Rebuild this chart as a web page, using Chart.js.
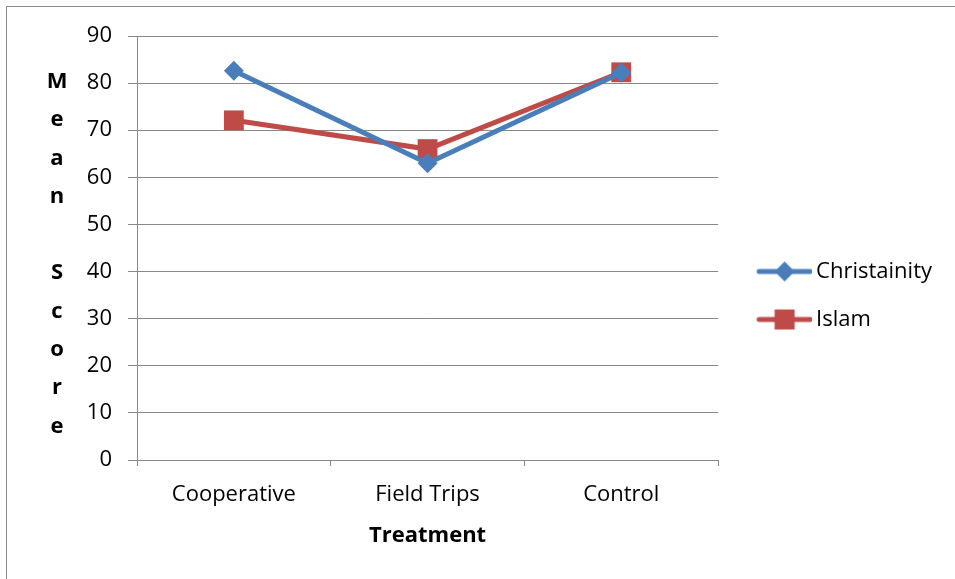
<!DOCTYPE html>
<html>
<head>
<meta charset="utf-8">
<script src="https://cdn.jsdelivr.net/npm/chart.js@4.4.1/dist/chart.umd.min.js"></script>
<style>
html, body { margin: 0; padding: 0; background: #fff; }
#wrap { position: relative; width: 955px; height: 579px; overflow: hidden; }
#frame { position: absolute; left: 6px; top: 6px; width: 1200px; height: 1200px;
         border-left: 1px solid #8c8c8c; border-top: 1px solid #8c8c8c; }
#myChart { position: absolute; left: 0; top: 0; }
</style>
</head>
<body>
<div id="wrap">
  <div id="frame"></div>
  <canvas id="myChart" width="955" height="579"></canvas>
</div>
<script>
'use strict'

// data
const categories = ['Cooperative', 'Field Trips', 'Control'];
const christianity = [82.6, 63.0, 82.2];
const islam = [72.1, 66.0, 82.3];
const yMin = 0, yMax = 90, yStep = 10;
const yTitleLetters = ['M', 'e', 'a', 'n', '', 'S', 'c', 'o', 'r', 'e'];
const xTitle = 'Treatment';

const blue = '#4a7ebb';
const red = '#be4b48';
const gridColor = '#888888';
const fontFamily = '"Open Sans", sans-serif';
const fontSize = 22;

// legend swatch: line with the marker in the middle (blank strip on the left)
const makeSwatch = (color, shape) => {
    const c = document.createElement('canvas');
    c.width = 75; c.height = 24;
    const g = c.getContext('2d');
    g.strokeStyle = color;
    g.lineWidth = 5;
    g.lineCap = 'round';
    g.beginPath(); g.moveTo(22, 12); g.lineTo(73, 12); g.stroke();
    g.fillStyle = color;
    if (shape === 'diamond') {
        g.beginPath();
        g.moveTo(47.5, 2); g.lineTo(57.5, 12); g.lineTo(47.5, 22); g.lineTo(37.5, 12);
        g.closePath(); g.fill();
    } else {
        g.fillRect(37.5, 2, 20, 20);
    }
    return c;
};
const swatches = [makeSwatch(blue, 'diamond'), makeSwatch(red, 'square')];

// stacked letters for the y title
const yTitlePlugin = {
    id: 'yTitle',
    afterDraw(chart) {
        const {ctx, chartArea} = chart;
        const step = 38.3;
        const mid = (chartArea.top + chartArea.bottom) / 2 + 6;
        const start = mid - step * (yTitleLetters.length - 1) / 2;
        ctx.save();
        ctx.font = 'bold 22px ' + fontFamily;
        ctx.fillStyle = '#000';
        ctx.textAlign = 'center';
        ctx.textBaseline = 'middle';
        yTitleLetters.forEach((l, i) => {
            if (l) ctx.fillText(l, 57, start + i * step);
        });
        ctx.restore();
    }
};

Chart.defaults.font.family = fontFamily;
Chart.defaults.color = '#000';

const ctx = document.getElementById('myChart');

new Chart(ctx, {
    type: 'line',
    data: {
        labels: categories,
        datasets: [{
            label: 'Christainity',
            data: christianity,
            borderColor: blue,
            backgroundColor: blue,
            borderWidth: 5,
            pointStyle: 'rectRot',
            pointRadius: 10,
            pointHoverRadius: 10,
            pointBorderWidth: 0
        }, {
            label: 'Islam',
            data: islam,
            borderColor: red,
            backgroundColor: red,
            borderWidth: 5,
            pointStyle: 'rect',
            pointRadius: 14,
            pointHoverRadius: 14,
            pointBorderWidth: 0
        }]
    },
    options: {
        responsive: false,
        animation: false,
        layout: { padding: { top: 36, right: 13, bottom: 24, left: 0 } },
        plugins: {
            tooltip: { enabled: false },
            legend: {
                position: 'right',
                labels: {
                    usePointStyle: true,
                    pointStyleWidth: 61,
                    padding: 26,
                    font: { size: fontSize },
                    color: '#000',
                    generateLabels(chart) {
                        return chart.data.datasets.map((ds, i) => ({
                            text: ds.label,
                            pointStyle: swatches[i],
                            fillStyle: ds.borderColor,
                            strokeStyle: ds.borderColor,
                            lineWidth: 0,
                            hidden: false,
                            datasetIndex: i,
                            fontColor: '#000'
                        }));
                    }
                }
            }
        },
        scales: {
            x: {
                offset: true,
                grid: {
                    offset: true,
                    drawOnChartArea: false,
                    drawTicks: true,
                    tickLength: 6,
                    color: gridColor
                },
                border: { color: gridColor },
                ticks: { font: { size: fontSize }, padding: 16 },
                title: {
                    display: true,
                    text: xTitle,
                    font: { size: fontSize, weight: 'bold' },
                    padding: { top: 10, bottom: 6 }
                },
                afterFit(scale) { scale.height = 95; }
            },
            y: {
                min: yMin,
                max: yMax,
                ticks: { stepSize: yStep, font: { size: fontSize }, padding: 16 },
                grid: { color: gridColor, tickLength: 9 },
                border: { color: gridColor },
                afterFit(scale) { scale.width = 137; }
            }
        }
    },
    plugins: [yTitlePlugin]
});
</script>
</body>
</html>
